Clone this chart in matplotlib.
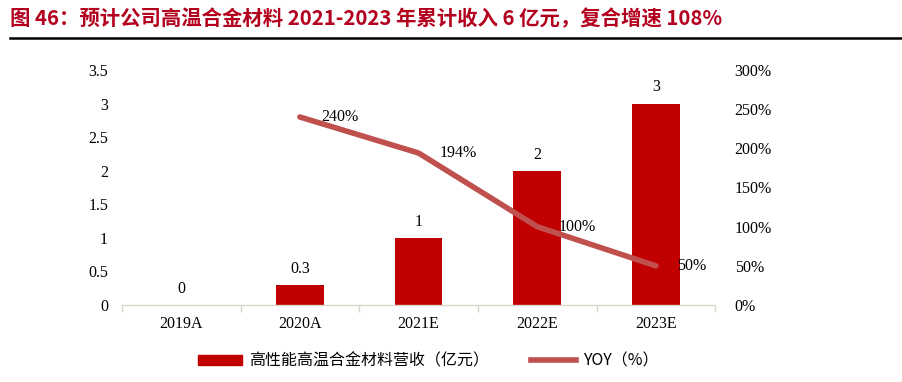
import matplotlib.pyplot as plt
from matplotlib.lines import Line2D
from matplotlib.patches import Patch

plt.rcParams['font.family'] = ['Liberation Serif', 'Noto Sans CJK SC']

years = ["2019A", "2020A", "2021E", "2022E", "2023E"]
revenue = [0, 0.3, 1, 2, 3]
revenue_labels = ["0", "0.3", "1", "2", "3"]
yoy_years = ["2020A", "2021E", "2022E", "2023E"]
yoy = [240, 194, 100, 50]

bar_color = "#C00000"
line_color = "#C0504D"
title_color = "#B2001E"

fig = plt.figure(figsize=(9.03, 3.82), dpi=100)
ax = fig.add_axes([0.135, 0.2016, 0.657, 0.6152])
ax2 = ax.twinx()

x = list(range(len(years)))
ax.bar(x, revenue, width=0.4, color=bar_color, zorder=2)
for xi, v, lab in zip(x, revenue, revenue_labels):
    ax.text(xi, v + 0.12, lab, ha="center", va="bottom", fontsize=11.5)

xl = [years.index(y) for y in yoy_years]
ax2.plot(xl, yoy, color=line_color, lw=4, solid_capstyle="round", zorder=3)
for xi, v in zip(xl, yoy):
    ax2.text(xi + 0.18, v, f"{v}%", ha="left", va="center", fontsize=11.5)

ax.set_xlim(-0.5, len(years) - 0.5)
ax.set_ylim(0, 3.5)
ax.set_yticks([0, 0.5, 1, 1.5, 2, 2.5, 3, 3.5])
ax.set_yticklabels(["0", "0.5", "1", "1.5", "2", "2.5", "3", "3.5"])
ax2.set_ylim(0, 300)
ax2.set_yticks([0, 50, 100, 150, 200, 250, 300])
ax2.set_yticklabels([f"{t}%" for t in range(0, 301, 50)])

ax.set_xticks(x)
ax.set_xticklabels(years)
ax.set_xticks([i - 0.5 for i in range(len(years) + 1)], minor=True)
ax.tick_params(axis="x", which="major", length=0, labelsize=11.5, pad=8)
ax.tick_params(axis="x", which="minor", length=5, color="#D9D5C8", width=1)
ax.tick_params(axis="y", length=0, labelsize=11.5, pad=10)
ax2.tick_params(axis="y", length=0, labelsize=11.5, pad=14)

for a in (ax, ax2):
    for s in ("top", "right", "left", "bottom"):
        a.spines[s].set_visible(False)
ax.spines["bottom"].set_visible(True)
ax.spines["bottom"].set_color("#D9D5C8")
ax.spines["bottom"].set_linewidth(1)

handles = [Patch(color=bar_color), Line2D([], [], color=line_color, lw=4)]
labels = ["高性能高温合金材料营收（亿元）", "YOY（%）"]
fig.legend(handles, labels, loc="center", bbox_to_anchor=(0.474, 0.055), ncol=2,
           frameon=False, handlelength=2.8, handleheight=0.6, handletextpad=0.45,
           columnspacing=2.6, prop={"family": ["Noto Sans CJK SC"], "size": 11.5})

fig.text(0.011, 0.952, "图 46：预计公司高温合金材料 2021-2023 年累计收入 6 亿元，复合增速 108%",
         fontsize=14.7, fontweight="bold", color=title_color, va="center",
         family=["Noto Sans CJK SC"])
fig.add_artist(Line2D([0.011, 1.0], [0.9, 0.9], color="black", lw=1.8,
                      transform=fig.transFigure))

fig.savefig("out.png", dpi=100)
